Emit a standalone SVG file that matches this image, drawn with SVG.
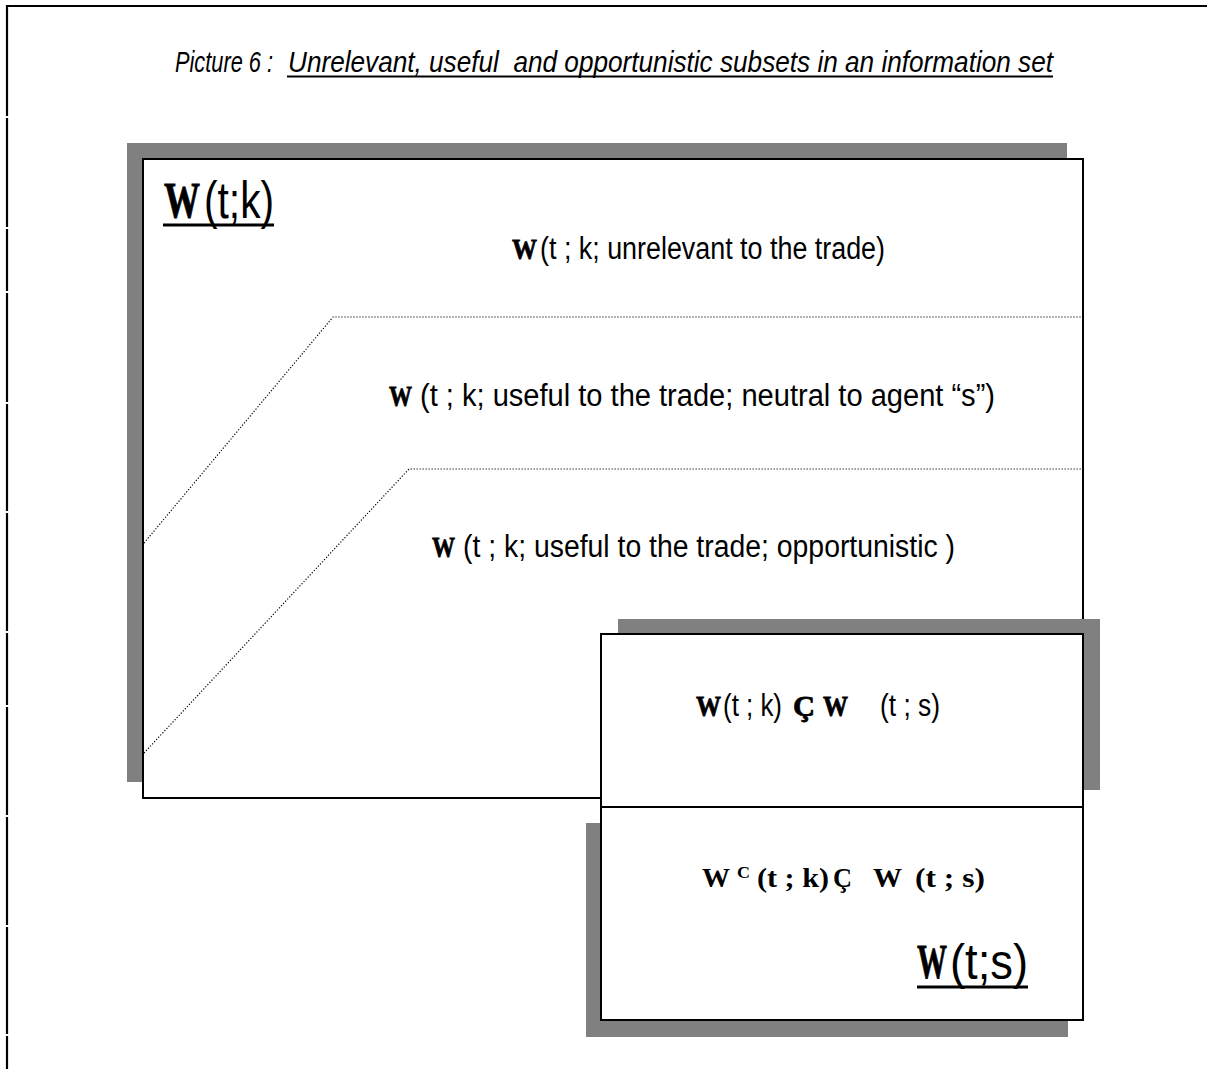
<svg xmlns="http://www.w3.org/2000/svg" width="1207" height="1069" viewBox="0 0 1207 1069">
<style>
.sh{fill:#808080}
.bx{fill:#fff;stroke:#000;stroke-width:2}
.dot{fill:none;stroke:#000;stroke-width:1.2;stroke-dasharray:1.2 1.8}
.ss{font-family:"Liberation Sans",Arial,sans-serif;font-weight:normal;stroke:none;fill:#000}
.sw{font-family:"Liberation Serif","Times New Roman",serif;font-weight:bold;fill:#000}
.hv{stroke:#000;stroke-width:0.8}
.ul{stroke:#000}
.edge{stroke:#000;stroke-width:2.2}
</style>
<rect width="1207" height="1069" fill="#fff"/>
<g id="page-border">
<line class="edge" x1="6" y1="6" x2="1207" y2="6"/>
<line class="edge" x1="7" y1="5" x2="7" y2="116"/>
<line class="edge" x1="7" y1="118" x2="7" y2="227"/>
<line class="edge" x1="7" y1="229" x2="7" y2="291"/>
<line class="edge" x1="7" y1="293" x2="7" y2="402"/>
<line class="edge" x1="7" y1="404" x2="7" y2="511"/>
<line class="edge" x1="7" y1="513" x2="7" y2="631"/>
<line class="edge" x1="7" y1="633" x2="7" y2="705"/>
<line class="edge" x1="7" y1="707" x2="7" y2="815"/>
<line class="edge" x1="7" y1="817" x2="7" y2="925"/>
<line class="edge" x1="7" y1="927" x2="7" y2="1034"/>
<line class="edge" x1="7" y1="1036" x2="7" y2="1069"/>
</g>
<g id="title">
<text class="ss" y="72" font-size="30" font-style="italic" xml:space="preserve"><tspan x="175" textLength="98" lengthAdjust="spacingAndGlyphs">Picture 6 :</tspan><tspan x="288" textLength="765" lengthAdjust="spacingAndGlyphs">Unrelevant, useful  and opportunistic subsets in an information set</tspan></text>
<line class="ul" x1="287" y1="76.5" x2="1053" y2="76.5" stroke-width="2"/>
</g>
<g id="set-k">
<rect class="sh" x="127" y="143" width="940" height="639"/>
<rect class="bx" x="143" y="159" width="940" height="639"/>
<text y="218"><tspan class="sw hv" x="164" y="217" font-size="50" textLength="36" lengthAdjust="spacingAndGlyphs">W</tspan><tspan class="ss" x="204" y="218" font-size="52" textLength="70" lengthAdjust="spacingAndGlyphs">(t;k)</tspan></text>
<line class="ul" x1="163" y1="225" x2="274" y2="225" stroke-width="3.2"/>
</g>
<g id="connectors">
<polyline class="dot" points="144,543 333,317 1083,317"/>
<polyline class="dot" points="144,753 409,469 1083,469"/>
</g>
<g id="subset-unrelevant">
<text y="259"><tspan class="sw hv" x="512" font-size="30" textLength="25" lengthAdjust="spacingAndGlyphs">W</tspan><tspan class="ss" x="540" font-size="31" textLength="345" lengthAdjust="spacingAndGlyphs">(t ; k; unrelevant to the trade)</tspan></text>
</g>
<g id="subset-neutral">
<text y="406"><tspan class="sw hv" x="389" font-size="30" textLength="23" lengthAdjust="spacingAndGlyphs">W</tspan><tspan class="ss" x="420" font-size="31" textLength="575" lengthAdjust="spacingAndGlyphs">(t ; k; useful to the trade; neutral to agent “s”)</tspan></text>
</g>
<g id="subset-opportunistic">
<text y="557"><tspan class="sw hv" x="432" font-size="30" textLength="23" lengthAdjust="spacingAndGlyphs">W</tspan><tspan class="ss" x="463" font-size="31" textLength="492" lengthAdjust="spacingAndGlyphs">(t ; k; useful to the trade; opportunistic )</tspan></text>
</g>
<g id="intersection">
<rect class="sh" x="618" y="619" width="482" height="171"/>
<rect class="bx" x="601" y="634" width="482" height="173"/>
<text y="716"><tspan class="sw hv" x="696" font-size="30" textLength="25" lengthAdjust="spacingAndGlyphs">W</tspan><tspan class="ss" x="723" font-size="31" textLength="59" lengthAdjust="spacingAndGlyphs">(t ; k)</tspan><tspan class="sw hv" x="793" font-size="30" textLength="22" lengthAdjust="spacingAndGlyphs">Ç</tspan><tspan class="sw hv" x="823" font-size="30" textLength="25" lengthAdjust="spacingAndGlyphs">W</tspan><tspan class="ss" x="880" font-size="31" textLength="60" lengthAdjust="spacingAndGlyphs">(t ; s)</tspan></text>
</g>
<g id="set-s">
<rect class="sh" x="586" y="823" width="482" height="214"/>
<rect class="bx" x="601" y="807" width="482" height="213"/>
<text class="sw" font-size="28" y="887"><tspan x="702" textLength="28" lengthAdjust="spacingAndGlyphs">W</tspan><tspan x="737" y="878" font-size="17" textLength="13" lengthAdjust="spacingAndGlyphs">C</tspan><tspan x="757" y="887" textLength="72" lengthAdjust="spacingAndGlyphs">(t ; k)</tspan><tspan x="833" textLength="19" lengthAdjust="spacingAndGlyphs">Ç</tspan><tspan x="873" textLength="29" lengthAdjust="spacingAndGlyphs">W</tspan><tspan x="915" textLength="70" lengthAdjust="spacingAndGlyphs">(t ; s)</tspan></text>
<text y="979"><tspan class="sw hv" x="917" y="978" font-size="48" textLength="30" lengthAdjust="spacingAndGlyphs">W</tspan><tspan class="ss" x="950" y="979" font-size="50" textLength="78" lengthAdjust="spacingAndGlyphs">(t;s)</tspan></text>
<line class="ul" x1="917" y1="987" x2="1028" y2="987" stroke-width="3"/>
</g>
</svg>
